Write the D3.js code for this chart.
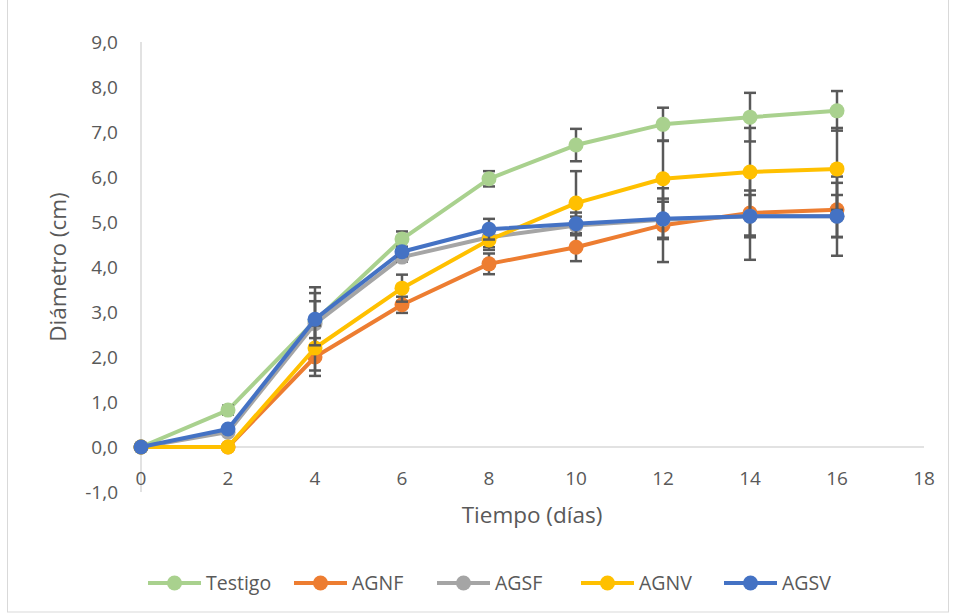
<!DOCTYPE html>
<html>
<head>
<meta charset="utf-8">
<script src="https://cdn.jsdelivr.net/npm/d3@7"></script>
<style>
  body { margin: 0; background: #fff; }
  svg { font-family: "Open Sans", Lato, sans-serif; }
</style>
</head>
<body>
<svg id="chart" width="953" height="616"></svg>
<script>
const days = [0, 2, 4, 6, 8, 10, 12, 14, 16];
const seriesNames = ["Testigo", "AGNF", "AGSF", "AGNV", "AGSV"];
const seriesColors = ["#A9D18E", "#ED7D31", "#A5A5A5", "#FFC000", "#4472C4"];

const testigo = [0, 0.82, 2.80, 4.62, 5.96, 6.71, 7.17, 7.33, 7.47];
const agnf    = [0, 0,    2.00, 3.16, 4.07, 4.44, 4.93, 5.20, 5.27];
const agsf    = [0, 0.33, 2.74, 4.22, 4.66, 4.92, 5.05, 5.13, 5.13];
const agnv    = [0, 0,    2.20, 3.53, 4.60, 5.42, 5.96, 6.11, 6.18];
const agsv    = [0, 0.40, 2.84, 4.34, 4.84, 4.96, 5.07, 5.13, 5.13];

const testigoErr = [0, 0.10, 0.75, 0.17, 0.17, 0.36, 0.37, 0.54, 0.44];
const agnfErr    = [0, 0,    0.42, 0.18, 0.23, 0.31, 0.82, 0.50, 0.60];
const agsfErr    = [0, 0,    0.50, 0.10, 0.22, 0.20, 0.40, 0.97, 0.88];
const agnvErr    = [0, 0,    0.50, 0.30, 0.22, 0.71, 0.85, 0.98, 0.91];
const agsvErr    = [0, 0,    0.58, 0.10, 0.23, 0.25, 0.45, 0.47, 0.47];

const yTicks = [-1, 0, 1, 2, 3, 4, 5, 6, 7, 8, 9];
const xTicks = [0, 2, 4, 6, 8, 10, 12, 14, 16, 18];

const allValues = [testigo, agnf, agsf, agnv, agsv];
const allErrors = [testigoErr, agnfErr, agsfErr, agnvErr, agsvErr];

const svg = d3.select("#chart");

const x = d3.scaleLinear().domain([0, 18]).range([141, 924]);
const y = d3.scaleLinear().domain([-1, 9]).range([492, 42]);
// excel style: comma decimal, plain hyphen for negatives
const fmt = d => d3.format(".1f")(d).replace(".", ",").replace("\u2212", "-");

// chart border
svg.append("rect")
  .attr("x", 7.5).attr("y", -2).attr("width", 941).attr("height", 614)
  .attr("fill", "none").attr("stroke", "#d9d9d9").attr("stroke-width", 1);

// axes lines
svg.append("line")
  .attr("x1", x(0)).attr("x2", x(0)).attr("y1", y(9)).attr("y2", y(-1))
  .attr("stroke", "#d9d9d9").attr("stroke-width", 1.5);
svg.append("line")
  .attr("x1", x(0)).attr("x2", x(18)).attr("y1", y(0)).attr("y2", y(0))
  .attr("stroke", "#d9d9d9").attr("stroke-width", 1.5);

// tick labels
svg.append("g").selectAll("text")
  .data(yTicks).enter().append("text")
  .attr("x", 118).attr("y", d => y(d)).attr("dy", "0.35em")
  .attr("text-anchor", "end").attr("fill", "#595959").attr("font-size", 19)
  .text(fmt);

svg.append("g").selectAll("text")
  .data(xTicks).enter().append("text")
  .attr("x", d => x(d)).attr("y", 478).attr("dy", "0.35em")
  .attr("text-anchor", "middle").attr("fill", "#595959").attr("font-size", 19)
  .text(d => d);

// axis titles
svg.append("text")
  .attr("x", 532).attr("y", 515).attr("dy", "0.35em")
  .attr("text-anchor", "middle").attr("fill", "#595959").attr("font-size", 22.5)
  .text("Tiempo (días)");
svg.append("text")
  .attr("transform", `translate(58,${(y(9) + y(-1)) / 2}) rotate(-90)`)
  .attr("dy", "0.35em")
  .attr("text-anchor", "middle").attr("fill", "#595959").attr("font-size", 22.5)
  .text("Diámetro (cm)");

const line = d3.line().x((d, i) => x(days[i])).y(d => y(d));

seriesNames.forEach((name, s) => {
  const vals = allValues[s], errs = allErrors[s], color = seriesColors[s];
  const g = svg.append("g");

  g.append("path")
    .datum(vals)
    .attr("fill", "none").attr("stroke", color).attr("stroke-width", 4)
    .attr("stroke-linejoin", "round")
    .attr("d", line);

  const eb = g.append("g").attr("stroke", "#595959").attr("stroke-width", 2.5);
  vals.forEach((v, i) => {
    const e = errs[i];
    if (!e) return;
    const cx = x(days[i]);
    eb.append("line").attr("x1", cx).attr("x2", cx).attr("y1", y(v + e)).attr("y2", y(v - e));
    [v + e, v - e].forEach(c => {
      eb.append("line").attr("x1", cx - 6).attr("x2", cx + 6).attr("y1", y(c)).attr("y2", y(c));
    });
  });

  g.selectAll("circle")
    .data(vals).enter().append("circle")
    .attr("cx", (d, i) => x(days[i])).attr("cy", d => y(d))
    .attr("r", 7.5).attr("fill", color);
});

// legend
const legendX = [148, 294, 437, 581, 724];
const legend = svg.append("g");
seriesNames.forEach((name, s) => {
  const lx = legendX[s], ly = 583;
  legend.append("line")
    .attr("x1", lx).attr("x2", lx + 53).attr("y1", ly).attr("y2", ly)
    .attr("stroke", seriesColors[s]).attr("stroke-width", 4);
  legend.append("circle")
    .attr("cx", lx + 26.5).attr("cy", ly).attr("r", 7.5).attr("fill", seriesColors[s]);
  legend.append("text")
    .attr("x", lx + 58).attr("y", ly).attr("dy", "0.35em")
    .attr("fill", "#595959").attr("font-size", 19.5)
    .text(name);
});
</script>
</body>
</html>
